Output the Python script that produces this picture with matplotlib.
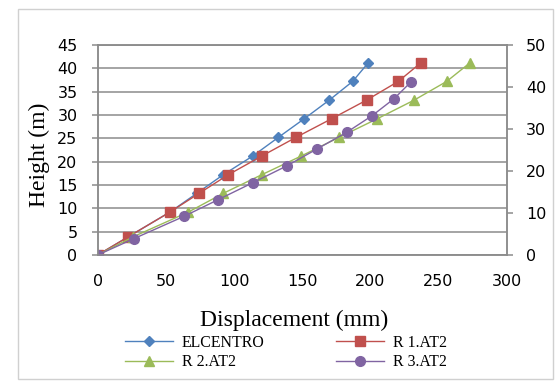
import matplotlib.pyplot as plt
from matplotlib.patches import Rectangle

# storey heights (m), same for every record
heights = [0, 3.9, 9.2, 13.2, 17.2, 21.2, 25.2, 29.2, 33.2, 37.2, 41.2]

# displacements (mm) for each record
elcentro = [0, 22.4, 53.0, 72.6, 92.1, 113.7, 132.5, 151.5, 169.9, 187.0, 198.5]
r1_at2 = [0, 22.4, 53.0, 74.3, 95.8, 120.3, 145.4, 171.6, 197.3, 220.5, 237.1]
r2_at2 = [0, 26.0, 66.5, 92.0, 120.3, 149.2, 177.0, 205.1, 232.2, 256.0, 273.1]
r3_at2 = [0, 26.6, 63.3, 88.5, 113.7, 138.6, 160.6, 182.6, 201.4, 217.3, 229.8]

x_ticks = [0, 50, 100, 150, 200, 250, 300]
y_ticks = [0, 5, 10, 15, 20, 25, 30, 35, 40, 45]
y2_ticks = [0, 10, 20, 30, 40, 50]

grey = '#8c8c8c'
W, H = 556, 389

fig = plt.figure(figsize=(5.56, 3.89), dpi=100)
ax = fig.add_axes([97.7 / W, 1 - 255 / H, 409 / W, 210 / H])

# outer chart border
fig.patches.append(Rectangle((18 / W, 1 - 379 / H), 535 / W, 370 / H,
                             transform=fig.transFigure, fill=False,
                             edgecolor='#d0d0d0', linewidth=1))

l1, = ax.plot(elcentro, heights, color='#4f81bd', marker='D', markersize=5,
              linewidth=1, label='ELCENTRO')
l2, = ax.plot(r1_at2, heights, color='#c0504d', marker='s', markersize=6.5,
              linewidth=1, label='R 1.AT2')
l3, = ax.plot(r2_at2, heights, color='#9bbb59', marker='^', markersize=7,
              linewidth=1, label='R 2.AT2')

ax.set_xlim(0, 300)
ax.set_ylim(0, 45)
ax.set_xticks(x_ticks)
ax.set_yticks(y_ticks)
ax.grid(axis='y', color=grey, linewidth=1.1)
ax.set_axisbelow(True)
ax.tick_params(axis='x', length=0, pad=14, labelsize=11.5, colors='black')
ax.tick_params(axis='y', length=4.5, width=1.1, color=grey, labelsize=11.5, pad=10)
for side in ['left', 'bottom', 'top', 'right']:
    ax.spines[side].set_color(grey)
    ax.spines[side].set_linewidth(1.1)

# R 3 is on the secondary axis
ax2 = ax.twinx()
l4, = ax2.plot(r3_at2, heights, color='#8064a2', marker='o', markersize=7,
               linewidth=1, label='R 3.AT2')
ax2.set_ylim(0, 50)
ax2.set_yticks(y2_ticks)
ax2.tick_params(axis='y', length=4.5, width=1.1, color=grey, labelsize=11.5, pad=9.5)
for side in ['left', 'bottom', 'top', 'right']:
    ax2.spines[side].set_color(grey)
    ax2.spines[side].set_linewidth(1.1)

for lab in ax.get_xticklabels() + ax.get_yticklabels() + ax2.get_yticklabels():
    lab.set_family('DejaVu Sans')

fig.text(294.5 / W, 1 - 320 / H, 'Displacement (mm)', family='Liberation Serif',
         fontsize=17, ha='center', va='center')
fig.text(39 / W, 1 - 155 / H, 'Height (m)', family='Liberation Serif',
         fontsize=17, rotation=90, ha='center', va='center')

fig.legend([l1, l3, l2, l4], ['ELCENTRO', 'R 2.AT2', 'R 1.AT2', 'R 3.AT2'],
           ncol=2, loc='center left', bbox_to_anchor=(125 / W, 1 - 352.5 / H),
           frameon=False, prop={'family': 'Liberation Serif', 'size': 11.4},
           handlelength=3.0, handletextpad=0.6, columnspacing=4.5,
           labelspacing=0.25, borderpad=0, borderaxespad=0)

fig.savefig('out.png', dpi=100)
